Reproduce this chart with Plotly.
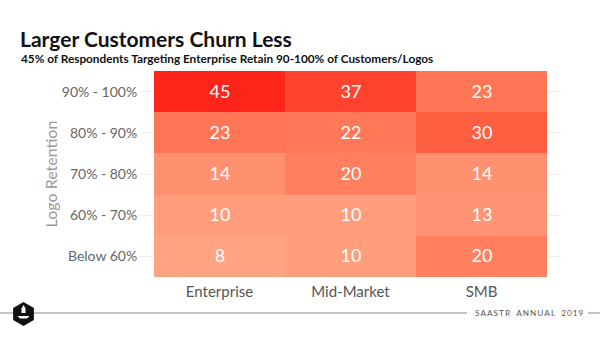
import plotly.graph_objects as go
import math

segments = ["Enterprise", "Mid-Market", "SMB"]
retention = ["Below 60%", "60% - 70%", "70% - 80%", "80% - 90%", "90% - 100%"]
# rows follow retention order (bottom to top)
enterprise = [8, 10, 14, 23, 45]
mid_market = [10, 10, 20, 22, 37]
smb = [20, 13, 14, 30, 23]

z = [[enterprise[i], mid_market[i], smb[i]] for i in range(len(retention))]

W, H = 600, 337
L, R, T, B = 154, 53, 71, 60
pw, ph = W - L - R, H - T - B

def px(x):
    return (x - L) / pw

def py(y):
    return (H - B - y) / ph

fig = go.Figure(go.Heatmap(
    x=segments, y=retention, z=z,
    zmin=8, zmax=45,
    colorscale=[[0, "#FFA383"], [0.4, "#FF7757"], [0.6, "#FF5E40"], [1, "#FF2419"]],
    showscale=False, xgap=0, ygap=0,
    text=z, texttemplate="%{text}",
    textfont=dict(family="Lato", size=18, color="white"),
    hoverinfo="skip",
))

fig.update_layout(
    width=W, height=H,
    margin=dict(l=L, r=R, t=T, b=B),
    paper_bgcolor="white", plot_bgcolor="white",
    font=dict(family="Lato", color="#666666"),
    xaxis=dict(showgrid=False, zeroline=False, ticks="", ticklabelstandoff=4,
               tickfont=dict(size=15, color="#555555")),
    yaxis=dict(showgrid=False, zeroline=False, ticks="outside", ticklen=13, tickcolor="#eeeeee",
               mirror="ticks", showline=False,
               tickfont=dict(size=14, color="#666666"),
               title=dict(text="Logo Retention", font=dict(size=16, color="#999999"), standoff=0)),
)

fig.add_annotation(text="<b>Larger Customers Churn Less</b>", xref="paper", yref="paper",
                   x=px(18), y=py(38), xanchor="left", yanchor="middle", showarrow=False,
                   font=dict(family="Lato", size=21, color="#111111"))
fig.add_annotation(text="<b>45% of Respondents Targeting Enterprise Retain 90-100% of Customers/Logos</b>",
                   xref="paper", yref="paper", x=px(19), y=py(58), xanchor="left", yanchor="middle",
                   showarrow=False, font=dict(family="Lato", size=11.8, color="#111111"))

# footer line and label
fig.add_shape(type="line", xref="paper", yref="paper", x0=px(0), x1=px(467), y0=py(313), y1=py(313),
              line=dict(color="#888888", width=1))
fig.add_shape(type="line", xref="paper", yref="paper", x0=px(588), x1=px(600), y0=py(313), y1=py(313),
              line=dict(color="#888888", width=1))
fig.add_annotation(text="\u2009".join("SAASTR") + "\u2003" + "\u2009".join("ANNUAL") + "\u2003" + "\u2009".join("2019"),
                   xref="paper", yref="paper", x=px(529), y=py(313), xanchor="center", yanchor="middle",
                   showarrow=False, font=dict(family="Lato", size=8.2, color="#555555"))

# hexagon logo
cx, cy, r = 23.5, 314, 12
pts = [(cx + r * math.sin(math.radians(a)), cy - r * math.cos(math.radians(a))) for a in range(0, 360, 60)]
path = "M " + " L ".join(f"{px(x):.5f},{py(y):.5f}" for x, y in pts) + " Z"
fig.add_shape(type="path", xref="paper", yref="paper", path=path, fillcolor="#111111", line=dict(width=0))
rocket = [(23.5, 305), (25.5, 308.5), (25.5, 313), (21.5, 313), (21.5, 308.5)]
path2 = "M " + " L ".join(f"{px(x):.5f},{py(y):.5f}" for x, y in rocket) + " Z"
fig.add_shape(type="path", xref="paper", yref="paper", path=path2, fillcolor="white", line=dict(width=0))
base = [(17.5, 316), (29.5, 316), (27, 318.5), (20, 318.5)]
path3 = "M " + " L ".join(f"{px(x):.5f},{py(y):.5f}" for x, y in base) + " Z"
fig.add_shape(type="path", xref="paper", yref="paper", path=path3, fillcolor="white", line=dict(width=0))

fig.write_html("out.html")
